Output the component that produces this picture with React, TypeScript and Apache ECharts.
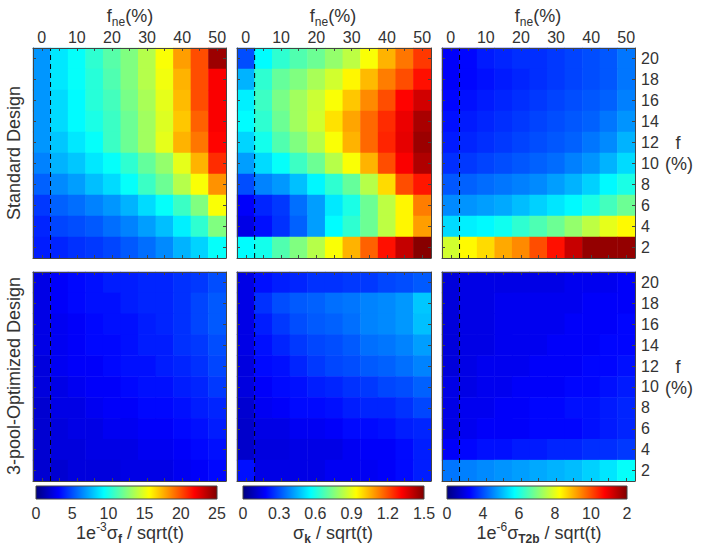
import React, { useEffect, useRef } from 'react';
import * as echarts from 'echarts';

// f_ne (%) columns and f (%) rows (bottom -> top)
const fneCategories = ['0', '5', '10', '15', '20', '25', '30', '35', '40', '45', '50'];
const fCategories = ['2', '4', '6', '8', '10', '12', '14', '16', '18', '20'];

// colorbar tick labels
const cbLabelsF = ['0', '5', '10', '15', '20', '25'];
const cbLabelsK = ['0', '0.3', '0.6', '0.9', '1.2', '1.5'];
const cbLabelsT2b = ['0', '4', '6', '8', '10', '2'];

// colour ranges of the three colour bars
const rangeF = [0, 25];
const rangeK = [0, 1.5];
const rangeT2b = [2, 12];

// f_ne boundary marked with a dashed line
const neBoundary = 2.5;

// values: rows from f = 20 (top) down to f = 2 (bottom); columns f_ne = 0..50
const sigmaFStandard = [
  [6.8, 8.8, 9.5, 10.5, 11.5, 12.5, 13.8, 15.5, 18.0, 20.0, 24.3],
  [6.8, 8.8, 9.5, 10.3, 11.3, 12.5, 13.8, 15.3, 17.5, 20.0, 22.0],
  [6.8, 8.5, 9.3, 10.3, 11.0, 12.3, 13.5, 15.0, 17.3, 20.0, 22.0],
  [6.8, 8.5, 9.3, 10.0, 10.8, 12.0, 13.3, 14.8, 17.0, 19.5, 22.0],
  [6.8, 8.0, 8.8, 9.5, 10.8, 12.0, 13.3, 15.0, 17.5, 19.0, 21.8],
  [6.3, 7.5, 8.0, 8.8, 9.5, 10.5, 11.8, 13.0, 15.0, 17.5, 20.8],
  [5.5, 6.5, 7.0, 7.8, 8.5, 9.5, 10.8, 12.0, 13.8, 15.5, 18.3],
  [4.5, 5.5, 5.8, 6.3, 6.8, 7.5, 8.5, 9.5, 10.8, 12.5, 15.5],
  [4.0, 4.8, 5.0, 5.3, 5.8, 6.3, 7.0, 7.8, 9.0, 10.5, 12.5],
  [3.8, 4.0, 4.3, 4.5, 4.8, 5.3, 5.8, 6.5, 7.5, 8.3, 9.5],
];

const sigmaKStandard = [
  [0.30, 0.56, 0.63, 0.68, 0.72, 0.78, 0.84, 0.93, 1.05, 1.14, 1.23],
  [0.45, 0.63, 0.71, 0.75, 0.81, 0.87, 0.95, 1.04, 1.13, 1.20, 1.29],
  [0.54, 0.65, 0.74, 0.80, 0.86, 0.93, 1.02, 1.11, 1.20, 1.31, 1.38],
  [0.56, 0.63, 0.72, 0.80, 0.87, 0.98, 1.07, 1.16, 1.25, 1.34, 1.44],
  [0.50, 0.59, 0.68, 0.75, 0.83, 0.93, 1.05, 1.16, 1.26, 1.35, 1.46],
  [0.42, 0.51, 0.57, 0.65, 0.72, 0.83, 0.93, 1.05, 1.20, 1.32, 1.43],
  [0.30, 0.38, 0.41, 0.47, 0.55, 0.63, 0.71, 0.83, 0.99, 1.20, 1.28],
  [0.18, 0.24, 0.27, 0.35, 0.42, 0.53, 0.60, 0.72, 0.84, 0.95, 1.13],
  [0.15, 0.21, 0.26, 0.33, 0.42, 0.56, 0.63, 0.72, 0.84, 0.95, 1.08],
  [0.56, 0.59, 0.68, 0.75, 0.83, 0.93, 1.05, 1.17, 1.29, 1.40, 1.49],
];

const sigmaT2bStandard = [
  [3.2, 3.3, 3.5, 3.6, 3.7, 3.7, 3.8, 3.9, 4.0, 4.1, 4.4],
  [3.2, 3.3, 3.4, 3.5, 3.6, 3.7, 3.8, 3.9, 4.0, 4.1, 4.4],
  [3.3, 3.4, 3.5, 3.6, 3.7, 3.8, 3.9, 4.0, 4.1, 4.2, 4.5],
  [3.4, 3.5, 3.6, 3.7, 3.8, 3.9, 4.0, 4.1, 4.2, 4.4, 4.7],
  [3.5, 3.6, 3.7, 3.8, 3.9, 4.0, 4.1, 4.2, 4.4, 4.6, 5.0],
  [3.7, 3.8, 3.9, 4.0, 4.1, 4.2, 4.3, 4.5, 4.7, 5.0, 5.4],
  [4.1, 4.2, 4.3, 4.4, 4.5, 4.6, 4.8, 5.0, 5.3, 5.7, 6.0],
  [4.6, 4.7, 4.8, 4.9, 5.1, 5.3, 5.5, 5.7, 6.0, 6.4, 6.8],
  [5.4, 5.6, 5.7, 5.9, 6.2, 6.5, 6.8, 7.2, 7.6, 8.0, 8.3],
  [7.8, 8.3, 8.6, 9.1, 9.4, 10.0, 10.6, 11.3, 11.8, 11.8, 11.8],
];

const sigmaFOptimized = [
  [2.5, 3.0, 3.3, 3.5, 3.8, 3.8, 4.0, 4.0, 4.3, 4.5, 5.0],
  [2.5, 3.0, 3.3, 3.5, 3.5, 3.8, 4.0, 4.0, 4.3, 4.8, 5.3],
  [2.5, 2.8, 3.0, 3.3, 3.5, 3.5, 3.8, 4.0, 4.3, 4.8, 5.3],
  [2.5, 2.8, 3.0, 3.3, 3.3, 3.5, 3.8, 3.8, 4.3, 4.5, 5.0],
  [2.3, 2.8, 3.0, 3.0, 3.3, 3.5, 3.5, 3.8, 4.0, 4.3, 4.8],
  [2.3, 2.5, 2.8, 3.0, 3.0, 3.3, 3.5, 3.5, 3.8, 4.0, 4.5],
  [2.0, 2.5, 2.5, 2.8, 3.0, 3.0, 3.3, 3.3, 3.5, 3.8, 4.0],
  [2.0, 2.3, 2.5, 2.5, 2.8, 2.8, 3.0, 3.0, 3.3, 3.5, 3.8],
  [2.0, 2.3, 2.3, 2.5, 2.5, 2.5, 2.8, 2.8, 3.0, 3.3, 3.5],
  [2.0, 2.0, 2.3, 2.3, 2.3, 2.5, 2.5, 2.5, 2.8, 3.0, 3.3],
];

const sigmaKOptimized = [
  [0.15, 0.21, 0.23, 0.24, 0.26, 0.26, 0.27, 0.27, 0.29, 0.30, 0.32],
  [0.15, 0.26, 0.30, 0.32, 0.33, 0.35, 0.36, 0.38, 0.39, 0.41, 0.48],
  [0.15, 0.23, 0.27, 0.30, 0.32, 0.33, 0.35, 0.38, 0.39, 0.41, 0.47],
  [0.15, 0.21, 0.24, 0.27, 0.29, 0.30, 0.32, 0.35, 0.36, 0.38, 0.42],
  [0.14, 0.20, 0.21, 0.24, 0.27, 0.29, 0.30, 0.32, 0.33, 0.35, 0.38],
  [0.14, 0.18, 0.20, 0.21, 0.23, 0.24, 0.26, 0.27, 0.29, 0.30, 0.33],
  [0.12, 0.17, 0.18, 0.20, 0.20, 0.21, 0.23, 0.24, 0.24, 0.26, 0.29],
  [0.11, 0.15, 0.15, 0.17, 0.17, 0.18, 0.20, 0.20, 0.21, 0.23, 0.24],
  [0.11, 0.14, 0.14, 0.15, 0.15, 0.15, 0.17, 0.18, 0.18, 0.20, 0.23],
  [0.21, 0.15, 0.15, 0.15, 0.15, 0.17, 0.17, 0.17, 0.18, 0.20, 0.23],
];

const sigmaT2bOptimized = [
  [2.9, 3.0, 3.0, 3.0, 3.0, 3.0, 3.0, 3.1, 3.1, 3.1, 3.2],
  [2.9, 3.0, 3.0, 3.1, 3.1, 3.1, 3.1, 3.1, 3.2, 3.2, 3.2],
  [2.9, 3.0, 3.0, 3.1, 3.1, 3.1, 3.1, 3.2, 3.2, 3.2, 3.3],
  [2.9, 3.0, 3.0, 3.1, 3.1, 3.1, 3.2, 3.2, 3.2, 3.3, 3.3],
  [2.9, 3.0, 3.1, 3.1, 3.1, 3.2, 3.2, 3.2, 3.3, 3.3, 3.4],
  [3.0, 3.0, 3.1, 3.1, 3.2, 3.2, 3.2, 3.3, 3.3, 3.4, 3.5],
  [3.0, 3.1, 3.1, 3.2, 3.2, 3.3, 3.3, 3.4, 3.4, 3.5, 3.6],
  [3.0, 3.1, 3.2, 3.2, 3.2, 3.3, 3.3, 3.3, 3.4, 3.5, 3.6],
  [3.2, 3.3, 3.4, 3.4, 3.5, 3.5, 3.6, 3.6, 3.7, 3.7, 3.8],
  [4.4, 4.5, 4.6, 4.7, 4.8, 4.9, 5.0, 5.1, 5.3, 5.5, 5.8],
];

const JET = ['#000080', '#0000FF', '#0080FF', '#00FFFF', '#80FF80', '#FFFF00', '#FF8000', '#FF0000', '#800000'];
const FONT = '"Liberation Sans", Arial, Helvetica, sans-serif';
const TXT = '#333';
const LINE = '#444';

const colLeft = [33, 237, 442];
const colWidth = [193, 194, 193];
const rowTop = [48, 272];
const rowHeight = [210, 209];

const panels = [
  { data: sigmaFStandard, range: rangeF, row: 0, col: 0 },
  { data: sigmaKStandard, range: rangeK, row: 0, col: 1 },
  { data: sigmaT2bStandard, range: rangeT2b, row: 0, col: 2 },
  { data: sigmaFOptimized, range: rangeF, row: 1, col: 0 },
  { data: sigmaKOptimized, range: rangeK, row: 1, col: 1 },
  { data: sigmaT2bOptimized, range: rangeT2b, row: 1, col: 2 },
];

const colorbars = [
  { labels: cbLabelsF, left: 36, width: 181 },
  { labels: cbLabelsK, left: 243, width: 181 },
  { labels: cbLabelsT2b, left: 447, width: 180 },
];
const cbTop = 486;
const cbHeight = 13;

function toCells(rows: number[][]) {
  const out: number[][] = [];
  const n = rows.length;
  rows.forEach((row, r) => {
    row.forEach((v, c) => out.push([c, n - 1 - r, v]));
  });
  return out;
}

function buildOption() {
  const grid: any[] = [];
  const xAxis: any[] = [];
  const yAxis: any[] = [];
  const series: any[] = [];
  const visualMap: any[] = [];

  const tickStyle = { show: true, inside: true, length: 3, alignWithLabel: true, interval: 0, lineStyle: { color: LINE } };
  const lineStyle = { show: true, onZero: false, lineStyle: { color: LINE, width: 1 } };

  panels.forEach((p, i) => {
    grid.push({ left: colLeft[p.col], top: rowTop[p.row], width: colWidth[p.col], height: rowHeight[p.row] });
    xAxis.push({ type: 'category', gridIndex: i, data: fneCategories, position: 'bottom', axisLine: lineStyle, axisTick: tickStyle, axisLabel: { show: false }, splitLine: { show: false }, z: 5 });
    xAxis.push({
      type: 'category', gridIndex: i, data: fneCategories, position: 'top', axisLine: lineStyle, axisTick: tickStyle,
      axisLabel: { show: p.row === 0, interval: 1, fontSize: 16, color: TXT, fontFamily: FONT, margin: 3 }, splitLine: { show: false }, z: 5,
    });
    xAxis.push({ type: 'value', gridIndex: i, min: -2.5, max: 52.5, show: false });
    yAxis.push({ type: 'category', gridIndex: i, data: fCategories, position: 'left', axisLine: lineStyle, axisTick: tickStyle, axisLabel: { show: false }, splitLine: { show: false }, z: 5 });
    yAxis.push({
      type: 'category', gridIndex: i, data: fCategories, position: 'right', axisLine: lineStyle, axisTick: tickStyle,
      axisLabel: { show: p.col === 2, interval: 0, fontSize: 16, color: TXT, fontFamily: FONT, margin: 6 }, splitLine: { show: false }, z: 5,
    });
    yAxis.push({ type: 'value', gridIndex: i, min: 1, max: 21, show: false });

    const hmIndex = series.length;
    series.push({
      type: 'heatmap', xAxisIndex: i * 3, yAxisIndex: i * 3, data: toCells(p.data),
      itemStyle: { borderWidth: 0 }, emphasis: { disabled: true },
    });
    visualMap.push({ type: 'continuous', show: false, min: p.range[0], max: p.range[1], seriesIndex: hmIndex, dimension: 2, inRange: { color: JET } });
    series.push({
      type: 'line', xAxisIndex: i * 3 + 2, yAxisIndex: i * 3 + 2, data: [[neBoundary, 1], [neBoundary, 21]],
      symbol: 'none', z: 4, lineStyle: { color: '#000', width: 1, type: [5, 4] },
    });
  });

  colorbars.forEach((cb, k) => {
    const gi = panels.length + k;
    grid.push({ left: cb.left, top: cbTop, width: cb.width, height: cbHeight });
    xAxis.push({
      type: 'category', gridIndex: gi, data: cb.labels, boundaryGap: false, position: 'bottom',
      axisLine: { show: false }, axisTick: { show: false },
      axisLabel: { show: true, interval: 0, fontSize: 16, color: TXT, fontFamily: FONT, margin: 6 },
    });
    yAxis.push({ type: 'value', gridIndex: gi, show: false });
  });

  const stops = JET.map((c, i) => ({ offset: i / (JET.length - 1), color: c }));
  const graphic: any[] = [];
  colorbars.forEach((cb) => {
    graphic.push({
      type: 'rect', shape: { x: cb.left, y: cbTop, width: cb.width, height: cbHeight },
      style: { fill: new echarts.graphic.LinearGradient(0, 0, 1, 0, stops), stroke: LINE, lineWidth: 1 }, z: 10,
    });
  });

  const base = { fontFamily: FONT, fill: TXT, color: TXT };
  const rich = {
    a: { ...base, fontSize: 18, lineHeight: 24 },
    sub: { ...base, fontSize: 12, lineHeight: 14, verticalAlign: 'bottom' },
    subb: { ...base, fontSize: 12, lineHeight: 14, fontWeight: 'bold', verticalAlign: 'bottom' },
    sup: { ...base, fontSize: 12, lineHeight: 14, verticalAlign: 'top' },
  };
  const txt = (x: number, y: number, text: string, extra: any = {}) => ({
    type: 'text', x, y, z: 10, ...extra,
    style: { text, rich, fontFamily: FONT, fontSize: 18, fill: TXT, align: 'center', verticalAlign: 'middle' },
  });

  [130, 333, 538].forEach((x) => graphic.push(txt(x, 16, '{a|f}{sub|ne}{a|(%)}')));
  graphic.push(txt(14, 153, '{a|Standard Design}', { rotation: Math.PI / 2 }));
  graphic.push(txt(14, 376, '{a|3-pool-Optimized Design}', { rotation: Math.PI / 2 }));
  graphic.push(txt(678, 143, '{a|f}'));
  graphic.push(txt(679, 164, '{a|(%)}'));
  graphic.push(txt(678, 367, '{a|f}'));
  graphic.push(txt(679, 388, '{a|(%)}'));
  graphic.push(txt(130, 533, '{a|1e}{sup|-3}{a|σ}{subb|f}{a| / sqrt(t)}'));
  graphic.push(txt(333, 533, '{a|σ}{subb|k}{a| / sqrt(t)}'));
  graphic.push(txt(539, 533, '{a|1e}{sup|-6}{a|σ}{subb|T2b}{a| / sqrt(t)}'));

  return {
    animation: false,
    backgroundColor: '#fff',
    textStyle: { fontFamily: FONT },
    grid, xAxis, yAxis, series, visualMap, graphic,
  };
}

export default function App() {
  const ref = useRef<HTMLDivElement>(null);
  useEffect(() => {
    if (!ref.current) return;
    const chart = echarts.init(ref.current, undefined, { renderer: 'svg' });
    chart.setOption(buildOption() as any);
    return () => chart.dispose();
  }, []);
  return <div ref={ref} style={{ position: 'fixed', left: 0, top: 0, width: 701, height: 557 }} />;
}
